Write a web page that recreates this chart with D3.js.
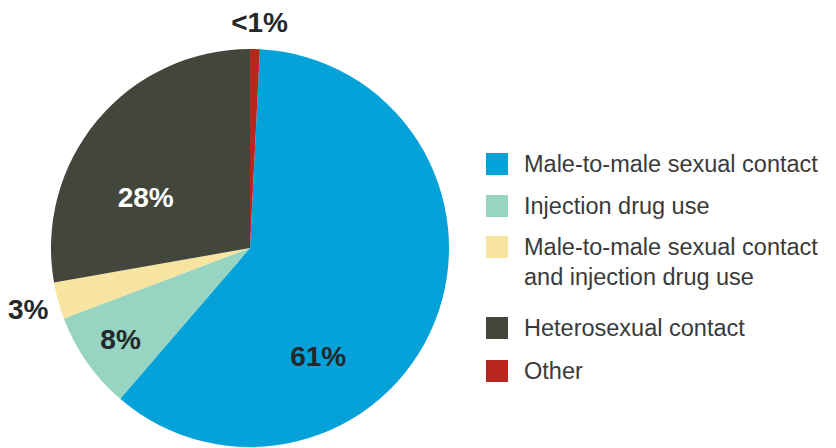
<!DOCTYPE html>
<html>
<head>
<meta charset="utf-8">
<script src="https://cdn.jsdelivr.net/npm/d3@7"></script>
<style>
  body { margin: 0; background: #fff; }
  text { font-family: "Liberation Sans", Arial, sans-serif; }
</style>
</head>
<body>
<div id="chart"></div>
<script>
// transmission categories, in legend order
var categories = ['Male-to-male sexual contact', 'Injection drug use',
  'Male-to-male sexual contact and injection drug use', 'Heterosexual contact', 'Other'];
var shares = [61, 8, 3, 28, 0.8];
var labels = ['61%', '8%', '3%', '28%', '<1%'];
var legendLines = [['Male-to-male sexual contact'], ['Injection drug use'],
  ['Male-to-male sexual contact', 'and injection drug use'], ['Heterosexual contact'], ['Other']];

var width = 836, height = 448;
var cx = 250, cy = 248, radius = 199;

var svg = d3.select('#chart').append('svg')
  .attr('width', width)
  .attr('height', height);

var colors = d3.scaleOrdinal()
  .domain(categories)
  .range(['#04a2d8', '#97d4c2', '#f6e4a0', '#42463b', '#b8261d']);

// "Other" sits just right of 12 o'clock, so the rest starts after it
var total = d3.sum(shares);
var start = 2 * Math.PI * shares[4] / total;

var pie = d3.pie()
  .sort(null)
  .value(function(d) { return d; })
  .startAngle(start)
  .endAngle(start + 2 * Math.PI);

var arcs = pie(shares);
var arc = d3.arc().innerRadius(0).outerRadius(radius);

var g = svg.append('g').attr('transform', 'translate(' + cx + ',' + cy + ')');

g.selectAll('path')
  .data(arcs)
  .enter()
  .append('path')
  .attr('d', arc)
  .attr('fill', function(d, i) { return colors(categories[i]); });

// label placement: [radius, angle shift in degrees from slice middle]
var labelPolar = [[128, 36], [158, 0], [230, 0], [116, -14], [226, 1]];
var labelColor = ['#24282a', '#24282a', '#24282a', '#ffffff', '#24282a'];

g.selectAll('text.pct')
  .data(arcs)
  .enter()
  .append('text')
  .attr('class', 'pct')
  .attr('transform', function(d, i) {
    var a = (d.startAngle + d.endAngle) / 2 + labelPolar[i][1] * Math.PI / 180;
    var r = labelPolar[i][0];
    return 'translate(' + (r * Math.sin(a)) + ',' + (-r * Math.cos(a)) + ')';
  })
  .attr('text-anchor', 'middle')
  .attr('dy', '0.36em')
  .attr('font-size', 28)
  .attr('font-weight', 'bold')
  .attr('fill', function(d, i) { return labelColor[i]; })
  .text(function(d, i) { return labels[i]; });

// legend rows (the two-line item pushes the rest down)
var rowTops = [164, 206, 247, 328, 371];

var legend = svg.append('g').attr('class', 'legend');
var item = legend.selectAll('g')
  .data(categories)
  .enter()
  .append('g')
  .attr('transform', function(d, i) { return 'translate(486,' + rowTops[i] + ')'; });

item.append('rect')
  .attr('x', 0)
  .attr('y', -11)
  .attr('width', 22)
  .attr('height', 22)
  .attr('fill', function(d) { return colors(d); });

item.append('text')
  .attr('x', 38)
  .attr('y', 8)
  .attr('font-size', 23.5)
  .attr('fill', '#3a3a3a')
  .selectAll('tspan')
  .data(function(d, i) { return legendLines[i]; })
  .enter()
  .append('tspan')
  .attr('x', 38)
  .attr('dy', function(d, j) { return j === 0 ? 0 : 30; })
  .text(function(d) { return d; });
</script>
</body>
</html>
